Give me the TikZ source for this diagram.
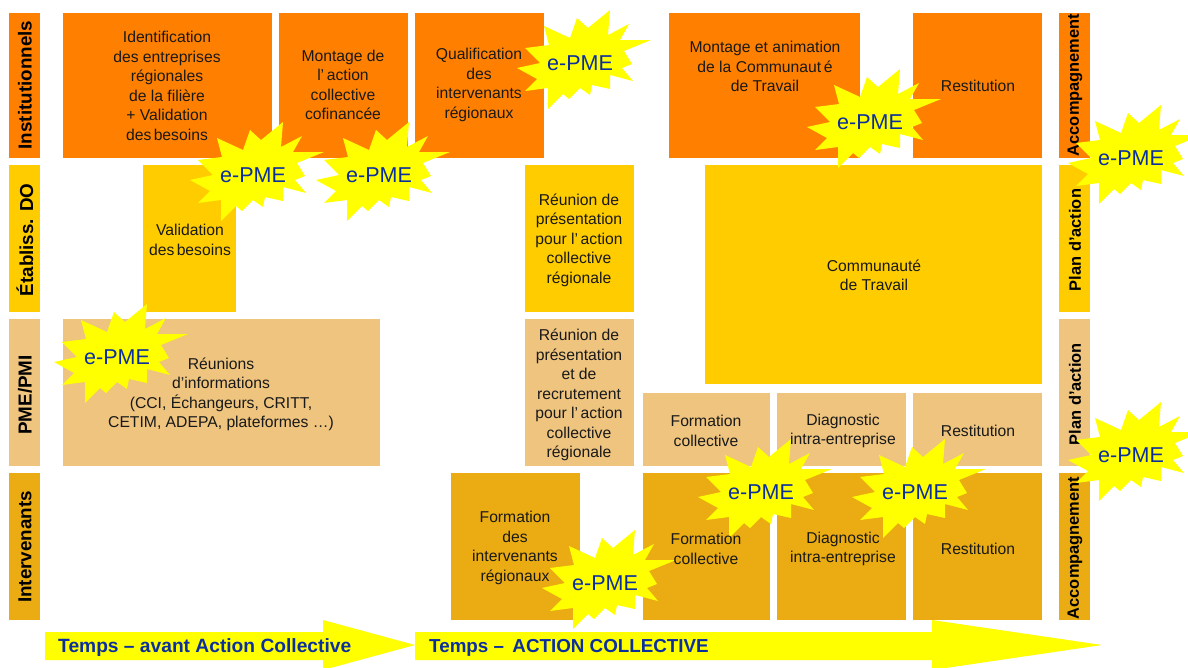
\documentclass[tikz,border=0pt]{standalone}
\usepackage{fontspec}
\setmainfont{Liberation Sans}
\definecolor{instcol}{HTML}{FF8000}
\definecolor{etabcol}{HTML}{FFCC00}
\definecolor{pmecol}{HTML}{EEC47E}
\definecolor{intercol}{HTML}{EAAC12}
\definecolor{bluecol}{HTML}{0B2F9E}
\definecolor{starcol}{HTML}{FFFF00}
\newcommand{\starpath}{(30,-53)--(28,-28)--(49,-39)--(40,-23)--(71,-23)--(44,-12)--(52,1)--(42,5)--(53,18)--(30,12)--(30,26)--(12,22)--(10,32)--(0,25)--(-11,36)--(-17,31)--(-32,46)--(-32,25)--(-55,28)--(-43,16)--(-63,5)--(-40,0)--(-55,-15)--(-31,-18)--(-36,-37)--(-10,-25)--(-3,-45)--(8,-35)--cycle}
\begin{document}
\begin{tikzpicture}[line cap=round,line join=round,x=1pt,y=-1pt,
	celltext/.style={align=center,inner sep=0pt,font=\fontsize{15.7}{19.5}\selectfont,text=black!90},
	sidetext/.style={rotate=90,inner sep=0pt,font=\fontsize{18.8}{20}\selectfont\bfseries},
	righttext/.style={rotate=90,inner sep=0pt,font=\fontsize{16.4}{20}\selectfont\bfseries},
	timetext/.style={anchor=west,inner sep=0pt,font=\fontsize{19.2}{20}\selectfont\bfseries,text=bluecol},
	epmetext/.style={inner sep=0pt,font=\fontsize{21.5}{22}\selectfont,text=bluecol}]
	\useasboundingbox (0,0) rectangle (1188,667);
	\clip (0,0) rectangle (1188,667);
	\fill [white] (0,0) rectangle (1188,667);
	% rangees
	\fill [instcol] (9,13) rectangle (40,158);
	\fill [etabcol] (9,165) rectangle (40,312);
	\fill [pmecol] (9,319) rectangle (40,466);
	\fill [intercol] (9,473) rectangle (40,620);
	\fill [instcol] (1059,13) rectangle (1090,158);
	\fill [etabcol] (1059,165) rectangle (1090,312);
	\fill [pmecol] (1059,319) rectangle (1090,466);
	\fill [intercol] (1059,473) rectangle (1090,620);
	\fill [instcol] (63,13) rectangle (272,158);
	\fill [instcol] (279,13) rectangle (408,158);
	\fill [instcol] (415,13) rectangle (544,158);
	\fill [instcol] (669,13) rectangle (860,158);
	\fill [instcol] (913,13) rectangle (1042,158);
	\fill [etabcol] (143,165) rectangle (236,312);
	\fill [etabcol] (525,165) rectangle (634,312);
	\fill [etabcol] (705,165) rectangle (1042,384);
	\fill [pmecol] (63,319) rectangle (380,466);
	\fill [pmecol] (525,319) rectangle (634,466);
	\fill [pmecol] (643,393) rectangle (770,466);
	\fill [pmecol] (777,393) rectangle (906,466);
	\fill [pmecol] (913,393) rectangle (1042,466);
	\fill [intercol] (451,473) rectangle (580,620);
	\fill [intercol] (643,473) rectangle (770,620);
	\fill [intercol] (777,473) rectangle (906,620);
	\fill [intercol] (913,473) rectangle (1042,620);
	% fleches du temps
	\fill [starcol] (45,632)--(323,632)--(323,620)--(415,645)--(323,670)--(323,660)--(45,660)--cycle;
	\fill [starcol] (415,632)--(932,632)--(932,620)--(1102,645)--(932,670)--(932,660)--(415,660)--cycle;
	\node [timetext] (avant) at (58,648) {Temps – avant Action Collective};
	\node [timetext,font=\fontsize{18.8}{20}\selectfont\bfseries] (action) at (429,648) {Temps –\, ACTION COLLECTIVE};
	% titres des rangees
	\node [sidetext] (inst) at (25,85) {Institutionnels};
	\node [sidetext] (etab) at (25,240) {Établiss. DO};
	\node [sidetext] (pme) at (25,395) {PME/PMI};
	\node [sidetext] (inter) at (25,547) {Intervenants};
	\node [righttext] (accA) at (1075,85) {Accompagnement};
	\node [righttext] (planA) at (1075,240) {Plan d'action};
	\node [righttext] (planB) at (1075,394) {Plan d'action};
	\node [righttext] (accB) at (1075,548) {Accompagnement};
	% etoiles
	\foreach \i/\x/\y in {1/253/175,2/379/175,3/580/63,4/870/122,5/1131/158,6/117/357,7/761/492,8/915/492,9/1131/455,10/605/583}{
		\fill [starcol,shift={(\x,\y)}] \starpath;
		\node [epmetext] (epme\i) at (\x,\y) {e-PME};
	}
	% textes des cases
	\node [celltext] (ident) at (167,86) {Identification\\des entreprises\\régionales\\de la filière\\+ Validation\\des\kern-2pt\ besoins};
	\node [celltext] (montage) at (343,85) {Montage de\\l’\,action\\collective\\cofinancée};
	\node [celltext] (qualif) at (479,85) {Qualification\\des\\intervenants\\régionaux};
	\node [celltext] (anim) at (765,66.5) {Montage et animation\\de la Communaut\,é\\de Travail};
	\node [celltext] (restA) at (978,85.5) {Restitution};
	\node [celltext] (valid) at (190,240) {Validation\\des\kern-2pt\ besoins};
	\node [celltext] (reuA) at (579,240) {Réunion de\\présentation\\pour l’\,action\\collective\\régionale};
	\node [celltext] (comm) at (874,275.5) {Communauté\\de Travail};
	\node [celltext] (reuB) at (221,394.5) {Réunions\\d’informations\\(CCI, Échangeurs, CRITT,\\CETIM, ADEPA, plateformes …)};
	\node [celltext] (reuC) at (579,395) {Réunion de\\présentation\\et de\\recrutement\\pour l’\,action\\collective\\régionale};
	\node [celltext] (formA) at (706,431) {Formation\\collective};
	\node [celltext] (diagA) at (843,431) {Diagnostic\\intra-entreprise};
	\node [celltext] (restB) at (978,431) {Restitution};
	\node [celltext] (formB) at (515,548) {Formation\\des\\intervenants\\régionaux};
	\node [celltext] (formC) at (706,549) {Formation\\collective};
	\node [celltext] (diagB) at (843,549) {Diagnostic\\intra-entreprise};
	\node [celltext] (restC) at (978,549) {Restitution};
\end{tikzpicture}
\end{document}
